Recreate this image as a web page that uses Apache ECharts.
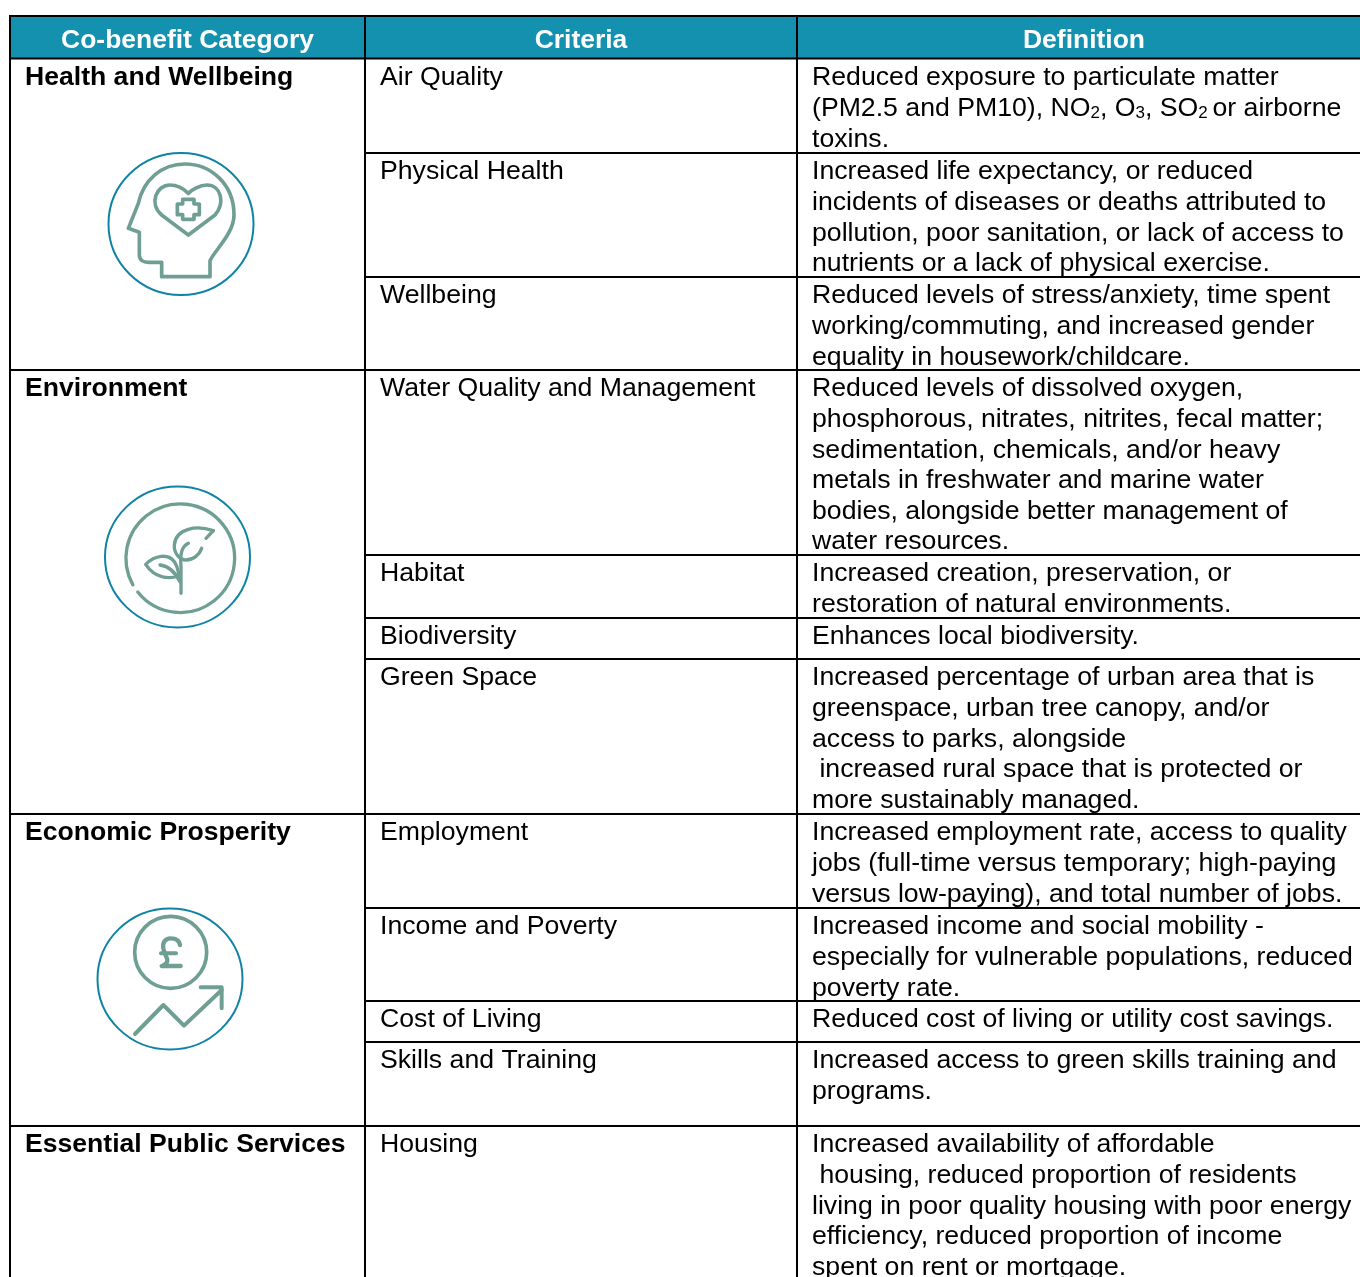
<!DOCTYPE html>
<html>
<head>
<meta charset="utf-8">
<style>html,body{margin:0;padding:0;background:#fff}#c{width:1360px;height:1277px}</style>
<script src="https://cdn.jsdelivr.net/npm/echarts@6/dist/echarts.min.js"></script>
</head>
<body>
<div id="c"></div>
<script>
const headers = ["Co-benefit Category", "Criteria", "Definition"];
const categories = ["Health and Wellbeing", "Environment", "Economic Prosperity", "Essential Public Services"];
const categoryFirstRow = [0, 3, 7, 11];
const criteria = ["Air Quality", "Physical Health", "Wellbeing", "Water Quality and Management", "Habitat", "Biodiversity", "Green Space", "Employment", "Income and Poverty", "Cost of Living", "Skills and Training", "Housing"];
const definitions = [
  ["Reduced exposure to particulate matter", "(PM2.5 and PM10), NO{s|2}, O{s|3}, SO{s|2 }or airborne", "toxins."],
  ["Increased life expectancy, or reduced", "incidents of diseases or deaths attributed to", "pollution, poor sanitation, or lack of access to", "nutrients or a lack of physical exercise."],
  ["Reduced levels of stress/anxiety, time spent", "working/commuting, and increased gender", "equality in housework/childcare."],
  ["Reduced levels of dissolved oxygen,", "phosphorous, nitrates, nitrites, fecal matter;", "sedimentation, chemicals, and/or heavy", "metals in freshwater and marine water", "bodies, alongside better management of", "water resources."],
  ["Increased creation, preservation, or", "restoration of natural environments."],
  ["Enhances local biodiversity."],
  ["Increased percentage of urban area that is", "greenspace, urban tree canopy, and/or", "access to parks, alongside", " increased rural space that is protected or", "more sustainably managed."],
  ["Increased employment rate, access to quality", "jobs (full-time versus temporary; high-paying", "versus low-paying), and total number of jobs."],
  ["Increased income and social mobility -", "especially for vulnerable populations, reduced", "poverty rate."],
  ["Reduced cost of living or utility cost savings."],
  ["Increased access to green skills training and", "programs."],
  ["Increased availability of affordable", " housing, reduced proportion of residents", "living in poor quality housing with poor energy", "efficiency, reduced proportion of income", "spent on rent or mortgage."]
];

// Table layout, in axis units (the axes span the page 1:1)
const W = 1360, H = 1277;
const colEdges = [10, 365, 797, 1371];
const tableTop = 16, headerBottom = 59;
const rowHeights = [94, 124, 93, 185, 63, 41, 155, 94, 93, 41, 84, 170];
const rowEdges = rowHeights.reduce((a, h) => (a.push(a[a.length - 1] + h), a), [headerBottom]);
const lineStep = 30.6, firstLine = 19, textPad = 15;
const FONT = '"Liberation Sans", Arial, sans-serif';
const BODY = 26.67, BOLD = 26.58, HEAD = 26.46;
const C = {head: '#1391ae', line: '#000', ring: '#0e83a5', icon: '#6f9f93'};

// Icons: stroke outlines in a local 3x design space
const icons = [
  {origin: [90, 140], ring: [181, 224, 72.5, 71], paths: [
    ['M215 410 L360 410 L360 362 C375 330 432 280 432 225 C432 130 360 72 285 72 C215 72 160 120 145 190 L115 265 L148 277 L148 345 C148 360 160 367 175 367 L215 367 Z', 11],
    ['M295 285 L215 225 C175 190 200 135 240 135 C265 135 285 150 295 160 C305 150 330 135 350 135 C395 135 405 190 375 225 Z', 11],
    ['M278 178 H312 V192 H328 V224 H312 V238 H278 V224 H262 V192 H278 Z', 11]
  ]},
  {origin: [80, 470], ring: [177.5, 557, 72.5, 70.5], paths: [
    ['M173.3 366.2 A163 163 0 1 0 158.7 344.5', 10],
    ['M303 370 L303 290 C300 250 305 230 325 220', 10],
    ['M400 182 C370 172 345 172 325 178 C300 185 285 200 283 225 C281 250 300 270 318 270 C340 270 358 255 365 235', 10],
    ['M400 182 L378 205', 10],
    ['M197 283 C225 255 265 250 283 275 C292 290 296 305 296 318 C265 328 225 325 197 283 Z', 10],
    ['M240 285 C265 288 285 305 300 335', 10]
  ]},
  {origin: [80, 895], ring: [170, 979, 72.5, 70.5], paths: [
    ['M380 172 A108 108 0 1 0 164 172 A108 108 0 1 0 380 172 Z', 11],
    ['M300 150 C298 135 285 130 272 130 C255 130 247 143 250 160 C253 175 262 190 262 195 C262 203 255 210 245 213 L302 213', 13],
    ['M243 175 L288 175', 12],
    ['M165 417 L250 330 L312 392 L425 285', 12],
    ['M362 277 L425 277 L425 340', 12]
  ]}
];

function line(api, x1, y1, x2, y2, w) {
  const a = api.coord([x1, y1]), b = api.coord([x2, y2]);
  return {type: 'line', shape: {x1: a[0], y1: a[1], x2: b[0], y2: b[1]}, style: {stroke: C.line, lineWidth: w}};
}
function label(api, x, y, text, size, weight, fill, align) {
  const p = api.coord([x, y]);
  return {type: 'text', x: p[0], y: p[1], style: {
    text, fill, align: align || 'left', verticalAlign: 'middle',
    font: (weight || 'normal') + ' ' + size + 'px ' + FONT,
    rich: {s: {fontSize: 17, fontFamily: FONT, fill, verticalAlign: 'bottom', padding: [9, 0, 0, 0]}}
  }};
}

const headerSeries = {
  type: 'custom', coordinateSystem: 'cartesian2d', clip: false, silent: true, z: 2,
  data: headers.map((h, i) => [i]),
  renderItem(params, api) {
    const i = api.value(0), l = colEdges[i], r = colEdges[i + 1];
    const a = api.coord([l, tableTop]), b = api.coord([r, headerBottom]);
    return {type: 'group', children: [
      {type: 'rect', shape: {x: a[0], y: a[1], width: b[0] - a[0], height: b[1] - a[1]}, style: {fill: C.head}},
      label(api, (l + r) / 2, 41, headers[i], HEAD, 'bold', '#fff', 'center')
    ]};
  }
};

const rowSeries = {
  type: 'custom', coordinateSystem: 'cartesian2d', clip: false, silent: true, z: 3,
  data: criteria.map((c, i) => [i]),
  renderItem(params, api) {
    const i = api.value(0), top = rowEdges[i], bottom = rowEdges[i + 1];
    const kids = [];
    const first = categoryFirstRow.indexOf(i);
    if (first >= 0) kids.push(label(api, colEdges[0] + textPad, top + firstLine, categories[first], BOLD, 'bold', '#000'));
    if (bottom < H) {
      const groupEnd = categoryFirstRow.indexOf(i + 1) >= 0;
      kids.push(line(api, groupEnd ? colEdges[0] : colEdges[1], bottom, W, bottom, 1.8));
    }
    kids.push(label(api, colEdges[1] + textPad, top + firstLine, criteria[i], BODY, 'normal', '#000'));
    definitions[i].forEach((t, k) => kids.push(label(api, colEdges[2] + textPad, top + firstLine + k * lineStep, t, BODY, 'normal', '#000')));
    return {type: 'group', children: kids};
  }
};

const frameSeries = {
  type: 'custom', coordinateSystem: 'cartesian2d', clip: false, silent: true, z: 4,
  data: [[0]],
  renderItem(params, api) {
    const kids = [line(api, colEdges[0] - 1, tableTop, W, tableTop, 2.2), line(api, colEdges[0] - 1, headerBottom - 0.5, W, headerBottom - 0.5, 2)];
    colEdges.slice(0, 3).forEach(x => kids.push(line(api, x, tableTop, x, H, 2)));
    return {type: 'group', children: kids};
  }
};

const iconSeries = {
  type: 'custom', coordinateSystem: 'cartesian2d', clip: false, silent: true, z: 5,
  data: icons.map((d, i) => [i]),
  renderItem(params, api) {
    const ic = icons[api.value(0)];
    const c = api.coord([ic.ring[0], ic.ring[1]]), o = api.coord(ic.origin);
    return {type: 'group', children: [
      {type: 'ellipse', shape: {cx: c[0], cy: c[1], rx: ic.ring[2], ry: ic.ring[3]}, style: {fill: 'none', stroke: C.ring, lineWidth: 2}},
      {type: 'group', x: o[0], y: o[1], scaleX: 1 / 3, scaleY: 1 / 3, children: ic.paths.map(p => ({
        type: 'path', shape: {pathData: p[0]},
        style: {fill: 'none', stroke: C.icon, lineWidth: p[1], lineCap: 'round', lineJoin: 'round'}
      }))}
    ]};
  }
};

const chart = echarts.init(document.getElementById('c'), null, {renderer: 'canvas'});
chart.setOption({
  animation: false,
  backgroundColor: '#fff',
  grid: {left: 0, top: 0, right: 0, bottom: 0},
  xAxis: {type: 'value', min: 0, max: W, show: false},
  yAxis: {type: 'value', min: 0, max: H, inverse: true, show: false},
  series: [headerSeries, rowSeries, frameSeries, iconSeries]
});
</script>
</body>
</html>
